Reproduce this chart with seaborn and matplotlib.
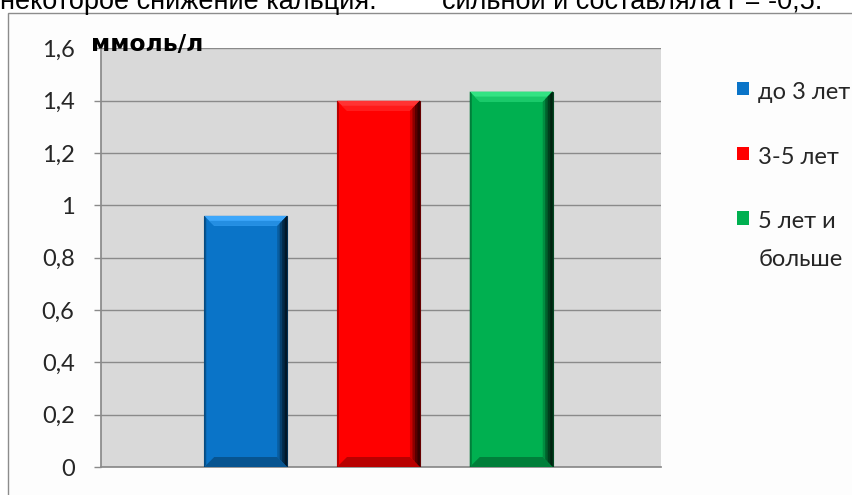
import matplotlib
matplotlib.use("Agg")
import matplotlib.pyplot as plt
import seaborn as sns
import pandas as pd
from matplotlib.patches import Rectangle, Polygon
import matplotlib.colors as mcolors

# ---- data ----
categories = ["до 3 лет", "3-5 лет", "5 лет и\nбольше"]
values = [0.96, 1.40, 1.435]
bar_colors = ["#0A74C8", "#FF0000", "#00B050"]
yticks = [0, 0.2, 0.4, 0.6, 0.8, 1.0, 1.2, 1.4, 1.6]
ytick_labels = ["0", "0,2", "0,4", "0,6", "0,8", "1", "1,2", "1,4", "1,6"]
unit_label = "ммоль/л"
top_text_left = "некоторое снижение кальция."
top_text_right = "сильной и составляла r = -0,5."

W, H = 853, 495
DPI = 100
sns.set_theme(style="white")
plt.rcParams['font.family'] = ['Lato', 'DejaVu Sans']

fig = plt.figure(figsize=(W / DPI, H / DPI), dpi=DPI)
fig.patch.set_facecolor("white")

# outer chart frame (partially cut like a screenshot)
frame = Rectangle((8 / W, -0.1), 1.2, 1 - 12.5 / H + 0.1, transform=fig.transFigure,
                  facecolor="#fdfdfd", edgecolor="#8c8c8c", linewidth=1.0, zorder=-10)
fig.patches.append(frame)

# text of the surrounding page, cut at the top edge like the screenshot
fig.text(0 / W, 1 - 9.3 / H, top_text_left, fontsize=19.5, family="Liberation Sans",
         va="baseline", ha="left", color="black")
fig.text(442 / W, 1 - 9.3 / H, top_text_right, fontsize=19.5, family="Liberation Sans",
         va="baseline", ha="left", color="black")

left, right, top, bottom = 101, 661, 48.4, 467
ax = fig.add_axes([left / W, (H - bottom) / H, (right - left) / W, (bottom - top) / H])
ax.set_facecolor("#D9D9D9")

df = pd.DataFrame({"cat": categories, "val": values})
sns.barplot(data=df, x="cat", y="val", hue="cat", palette=bar_colors,
            width=0.625, ax=ax, legend=False, saturation=1, zorder=3)

ax.set_ylim(0, 1.6)
ax.set_xlim(-1.09, 3.128)
ax.set_yticks(yticks)
ax.set_yticklabels(ytick_labels, fontsize=17, color="#262626")
ax.set_xticks([])
ax.set_xlabel("")
ax.set_ylabel("")
ax.grid(axis="y", color="#8a8a8a", linewidth=1.0, zorder=1)
ax.set_axisbelow(True)
for s in ["top", "right"]:
    ax.spines[s].set_visible(False)
ax.spines["left"].set_color("#8a8a8a")
ax.spines["bottom"].set_color("#8a8a8a")
ax.tick_params(axis="y", length=5, width=1, color="#8a8a8a", pad=14, left=True)

# bevel effect derived from each bar patch
fig.canvas.draw()
inv = ax.transData.inverted()
def px_to_data(dxp, dyp):
    p0 = inv.transform((0, 0))
    p1 = inv.transform((dxp, dyp))
    return p1[0] - p0[0], p1[1] - p0[1]
bx, by = px_to_data(10, 10)
lx, _ = px_to_data(2, 0)
for patch, col in zip(list(ax.patches), bar_colors):
    x0 = patch.get_x(); w = patch.get_width()
    y0 = patch.get_y(); h = patch.get_height()
    x1 = x0 + w; y1 = y0 + h
    base = mcolors.to_rgb(col)
    light = tuple(min(1, c + 0.2) for c in base)
    mid = tuple(c * 0.72 for c in base)
    patch.set_edgecolor(tuple(c * 0.4 for c in base))
    patch.set_linewidth(0.8)
    # top bevel (two tones)
    ax.add_patch(Polygon([(x0, y1), (x1, y1), (x1 - bx, y1 - by), (x0 + bx, y1 - by)],
                         closed=True, facecolor=light, edgecolor="none", zorder=4))
    ax.add_patch(Polygon([(x0 + bx / 2, y1 - by / 2), (x1 - bx / 2, y1 - by / 2),
                          (x1 - bx, y1 - by), (x0 + bx, y1 - by)],
                         closed=True, facecolor=tuple(min(1, c + 0.1) for c in base),
                         edgecolor="none", zorder=4))
    # right side (dark gradient)
    for i, f in enumerate([0.8, 0.55, 0.35, 0.2]):
        shade = tuple(c * f for c in base)
        k = 1 - i / 4
        xa = x1 - bx * k
        ax.add_patch(Polygon([(xa, y0 + by * k), (x1, y0), (x1, y1), (xa, y1 - by * k)],
                             closed=True, facecolor=shade, edgecolor="none", zorder=4))
    # bottom bevel
    ax.add_patch(Polygon([(x0, y0), (x1, y0), (x1 - bx, y0 + by), (x0 + bx, y0 + by)],
                         closed=True, facecolor=mid, edgecolor="none", zorder=4))
    # left thin dark edge
    ax.add_patch(Polygon([(x0, y0), (x0 + lx, y0 + by / 4), (x0 + lx, y1 - by / 4), (x0, y1)],
                         closed=True, facecolor=mid, edgecolor="none", zorder=4))

# unit label
fig.text(91 / W, 1 - 51 / H, unit_label, fontsize=16.8, family="DejaVu Sans",
         fontweight="bold", color="black", va="baseline", ha="left")

# legend
handles = [Rectangle((0, 0), 1, 1, facecolor=c, edgecolor="none") for c in bar_colors]
leg = fig.legend(handles, categories, loc="upper left", bbox_to_anchor=(737 / W, 1 - 82 / H),
                 frameon=False, fontsize=17, handlelength=0.5, handleheight=0.5,
                 handletextpad=0.4, labelspacing=1.85, borderaxespad=0, borderpad=0)
for t in leg.get_texts():
    t.set_color("#262626")
    t.set_linespacing(1.95)
# align handle with first line for multi-line entries
try:
    for col in leg._legend_handle_box.get_children():
        for item in col.get_children():
            item.align = "top"
except Exception:
    pass

fig.savefig("out.png", dpi=DPI)
